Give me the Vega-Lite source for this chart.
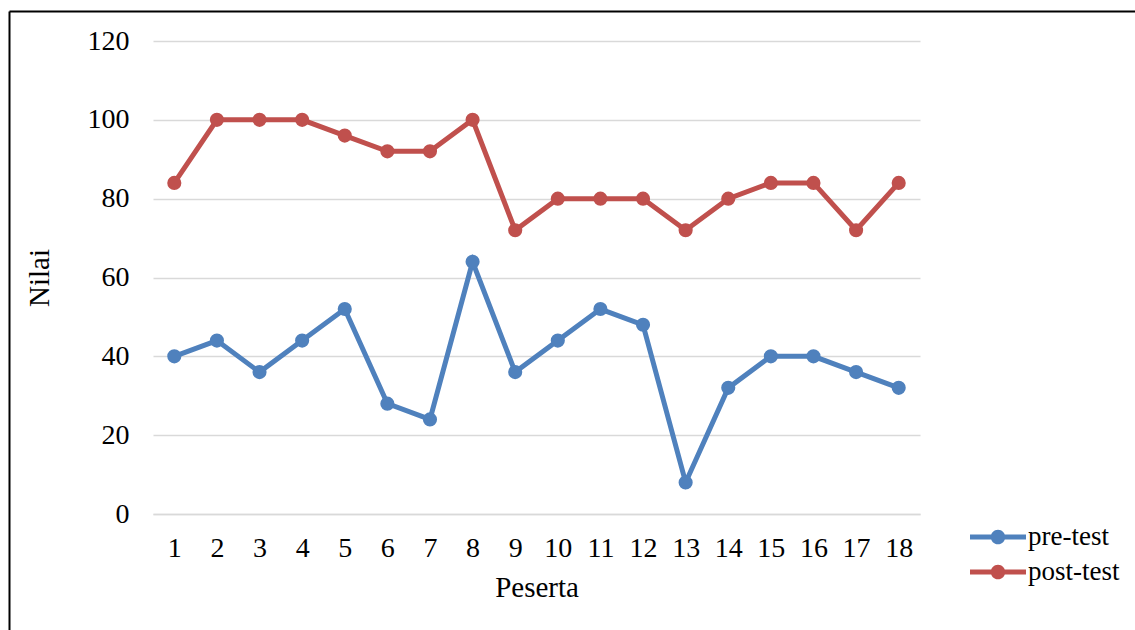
{
  "$schema": "https://vega.github.io/schema/vega-lite/v6.json",
  "width": 767,
  "height": 473,
  "autosize": {"type": "none"},
  "padding": {"left": 153, "top": 41, "right": 215, "bottom": 116},
  "background": "white",
  "config": {
    "view": {"stroke": null},
    "font": "Liberation Serif"
  },
  "data": {
    "values": [
      {"peserta": 1, "tes": "pre-test", "nilai": 40},
      {"peserta": 2, "tes": "pre-test", "nilai": 44},
      {"peserta": 3, "tes": "pre-test", "nilai": 36},
      {"peserta": 4, "tes": "pre-test", "nilai": 44},
      {"peserta": 5, "tes": "pre-test", "nilai": 52},
      {"peserta": 6, "tes": "pre-test", "nilai": 28},
      {"peserta": 7, "tes": "pre-test", "nilai": 24},
      {"peserta": 8, "tes": "pre-test", "nilai": 64},
      {"peserta": 9, "tes": "pre-test", "nilai": 36},
      {"peserta": 10, "tes": "pre-test", "nilai": 44},
      {"peserta": 11, "tes": "pre-test", "nilai": 52},
      {"peserta": 12, "tes": "pre-test", "nilai": 48},
      {"peserta": 13, "tes": "pre-test", "nilai": 8},
      {"peserta": 14, "tes": "pre-test", "nilai": 32},
      {"peserta": 15, "tes": "pre-test", "nilai": 40},
      {"peserta": 16, "tes": "pre-test", "nilai": 40},
      {"peserta": 17, "tes": "pre-test", "nilai": 36},
      {"peserta": 18, "tes": "pre-test", "nilai": 32},
      {"peserta": 1, "tes": "post-test", "nilai": 84},
      {"peserta": 2, "tes": "post-test", "nilai": 100},
      {"peserta": 3, "tes": "post-test", "nilai": 100},
      {"peserta": 4, "tes": "post-test", "nilai": 100},
      {"peserta": 5, "tes": "post-test", "nilai": 96},
      {"peserta": 6, "tes": "post-test", "nilai": 92},
      {"peserta": 7, "tes": "post-test", "nilai": 92},
      {"peserta": 8, "tes": "post-test", "nilai": 100},
      {"peserta": 9, "tes": "post-test", "nilai": 72},
      {"peserta": 10, "tes": "post-test", "nilai": 80},
      {"peserta": 11, "tes": "post-test", "nilai": 80},
      {"peserta": 12, "tes": "post-test", "nilai": 80},
      {"peserta": 13, "tes": "post-test", "nilai": 72},
      {"peserta": 14, "tes": "post-test", "nilai": 80},
      {"peserta": 15, "tes": "post-test", "nilai": 84},
      {"peserta": 16, "tes": "post-test", "nilai": 84},
      {"peserta": 17, "tes": "post-test", "nilai": 72},
      {"peserta": 18, "tes": "post-test", "nilai": 84}
    ]
  },
  "layer": [
    {
      "encoding": {
        "x": {
          "field": "peserta",
          "type": "ordinal",
          "sort": "ascending",
          "scale": {"type": "point", "padding": 0.5},
          "axis": {
            "orient": "bottom",
            "title": "Peserta",
            "labelAngle": 0,
            "labelFont": "Liberation Serif",
            "labelFontSize": 28,
            "labelColor": "black",
            "labelPadding": 20,
            "ticks": false,
            "domain": true,
            "domainColor": "#d9d9d9",
            "domainWidth": 1.5,
            "titleFont": "Liberation Serif",
            "titleFontSize": 29,
            "titleFontWeight": "normal",
            "titleColor": "black",
            "titlePadding": 11
          }
        },
        "y": {
          "field": "nilai",
          "type": "quantitative",
          "scale": {"domain": [0, 120], "nice": false},
          "axis": {
            "orient": "left",
            "title": "Nilai",
            "values": [0, 20, 40, 60, 80, 100, 120],
            "labelFont": "Liberation Serif",
            "labelFontSize": 28,
            "labelColor": "black",
            "labelPadding": 24,
            "ticks": false,
            "domain": false,
            "grid": true,
            "gridColor": "#d9d9d9",
            "gridWidth": 1.5,
            "titleFont": "Liberation Serif",
            "titleFontSize": 29,
            "titleFontWeight": "normal",
            "titleColor": "black",
            "titlePadding": 33
          }
        },
        "color": {
          "field": "tes",
          "type": "nominal",
          "scale": {"domain": ["pre-test", "post-test"], "range": ["#4F81BD", "#C0504D"]},
          "legend": {
            "title": null,
            "orient": "none",
            "legendX": 831,
            "legendY": 482,
            "labelFont": "Liberation Serif",
            "labelFontSize": 27,
            "labelColor": "black",
            "labelOffset": 16,
            "symbolType": "M -2 -0.18 L 2 -0.18 L 2 0.18 L -2 0.18 Z M 0.52 0 A 0.52 0.52 0 1 1 -0.52 0 A 0.52 0.52 0 1 1 0.52 0 Z",
            "symbolSize": 784,
            "symbolStrokeWidth": 0,
            "rowPadding": 8,
            "encode": {
              "symbols": {"update": {"fill": {"scale": "color", "field": "value"}, "strokeWidth": {"value": 0}}}
            }
          }
        }
      },
      "layer": [
        {"mark": {"type": "line", "strokeWidth": 5}},
        {"mark": {"type": "point", "filled": true, "size": 200, "opacity": 1}}
      ]
    },
    {
      "mark": {"type": "point", "opacity": 0},
      "encoding": {
        "x": {
          "field": "peserta",
          "type": "quantitative",
          "scale": {"domain": [0, 1], "range": [-144, 1126], "nice": false, "zero": false},
          "axis": {
            "orient": "top",
            "offset": 30,
            "title": null,
            "labels": false,
            "ticks": false,
            "grid": false,
            "domain": true,
            "domainColor": "black",
            "domainWidth": 2
          }
        },
        "y": {
          "field": "nilai",
          "type": "quantitative",
          "scale": {"domain": [0, 1], "range": [619, -30], "nice": false, "zero": false},
          "axis": {
            "orient": "left",
            "offset": 144,
            "title": null,
            "labels": false,
            "ticks": false,
            "grid": false,
            "domain": true,
            "domainColor": "black",
            "domainWidth": 2
          }
        }
      }
    }
  ],
  "resolve": {"scale": {"x": "independent", "y": "independent"}, "axis": {"x": "independent", "y": "independent"}}
}
